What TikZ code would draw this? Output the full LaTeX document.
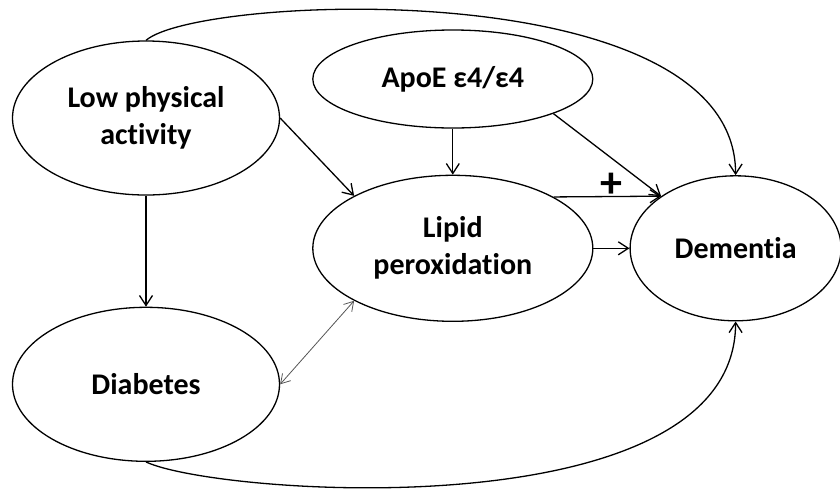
\documentclass[tikz,border=0pt]{standalone}
\usepackage{fontspec}
\setmainfont[Ligatures=NoCommon]{Carlito}
\usetikzlibrary{shapes.geometric, arrows.meta, positioning}
\definecolor{mgray}{HTML}{555555}
\tikzstyle{factor} = [ellipse, draw, line width=1.3pt, inner sep=0pt, text centered, align=center, font=\bfseries\fontsize{30}{37}\selectfont]
\tikzstyle{effect} = [line width=1.3pt, ->, >={Straight Barb[length=10pt, width=13pt]}]
\tikzstyle{assoc} = [line width=0.8pt, draw=mgray, <->, >={Straight Barb[length=9pt, width=11pt]}]

\begin{document}
\begin{tikzpicture}
\useasboundingbox (0,0) rectangle (840pt,-491pt);
\node (lpa) [factor, minimum width=267pt, minimum height=154pt] at (146pt,-118pt) {Low physical\\activity};
\node (diab) [factor, minimum width=267pt, minimum height=154pt, below=111pt of lpa] {Diabetes};
\node (apoe) [factor, minimum width=280pt, minimum height=98pt, right=32pt of lpa, yshift=39pt] {ApoE ε4/ε4};
\node (lipid) [factor, minimum width=280pt, minimum height=146pt, below=46pt of apoe] {Lipid\\peroxidation};
\node (dem) [factor, minimum width=211pt, minimum height=145pt, right=36pt of lipid] {Dementia};
\draw [effect] (lpa.north) to[out=41, in=90, out distance=70pt, in distance=203pt] (dem.north);
\draw [effect] (lpa.east) -- (lipid.152);
\draw [effect] (lpa) -- (diab);
\draw [effect] (apoe) -- (lipid);
\draw [effect] (apoe.-19) -- (dem.145);
\draw [effect] (lipid.27) -- node[pos=0.54, above=-5pt, font=\bfseries\fontsize{44}{44}\selectfont]{+} (dem.145);
\draw [effect] (lipid) -- (dem);
\draw [assoc] (diab.east) -- (lipid.-152);
\draw [effect] (diab.south) to[out=-25, in=-90, out distance=80pt, in distance=210pt] (dem.south);
\end{tikzpicture}
\end{document}
